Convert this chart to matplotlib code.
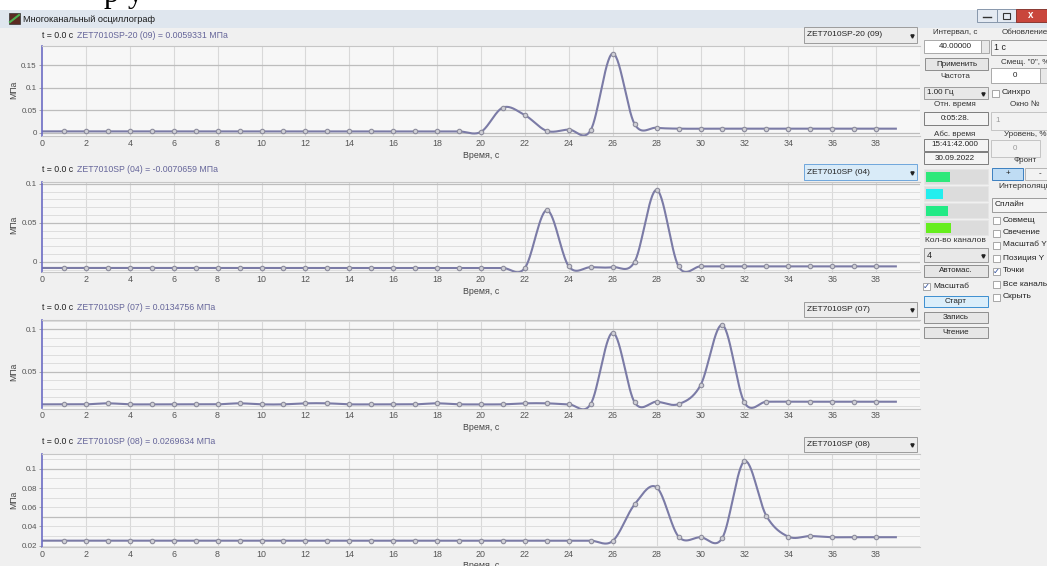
import numpy as np
import matplotlib
matplotlib.use("Agg")
import matplotlib.pyplot as plt
from matplotlib.patches import Rectangle
from matplotlib.ticker import FuncFormatter

plt.rcParams['font.family'] = ['Liberation Sans', 'DejaVu Sans']

W, H = 1047, 566

# samples, 1 per second
time_s = np.arange(40)

ch09 = [0.003, 0.003, 0.003, 0.003, 0.003, 0.003, 0.003, 0.003, 0.003, 0.003,
        0.003, 0.003, 0.003, 0.003, 0.003, 0.003, 0.003, 0.003, 0.003, 0.003,
        0.002, 0.056, 0.039, 0.004, 0.007, 0.006, 0.176, 0.019, 0.011, 0.009,
        0.009, 0.009, 0.009, 0.009, 0.009, 0.009, 0.009, 0.009, 0.009, 0.009]
ch04 = [-0.008, -0.008, -0.008, -0.008, -0.008, -0.008, -0.008, -0.008, -0.008, -0.008,
        -0.008, -0.008, -0.008, -0.008, -0.008, -0.008, -0.008, -0.008, -0.008, -0.008,
        -0.008, -0.008, -0.008, 0.066, -0.006, -0.007, -0.007, 0.0, 0.092, -0.006,
        -0.006, -0.006, -0.006, -0.006, -0.006, -0.006, -0.006, -0.006, -0.006, -0.006]
ch07 = [0.0115, 0.0115, 0.0115, 0.0127, 0.0115, 0.0115, 0.0115, 0.0115, 0.0115, 0.0127,
        0.0115, 0.0115, 0.0127, 0.0127, 0.0115, 0.0115, 0.0115, 0.0115, 0.0127, 0.0115,
        0.0115, 0.0115, 0.0127, 0.0127, 0.0115, 0.012, 0.096, 0.0138, 0.0146, 0.0118,
        0.034, 0.105, 0.0138, 0.0146, 0.0146, 0.0146, 0.0146, 0.0146, 0.0146, 0.0146]
ch08 = [0.0252, 0.0252, 0.0252, 0.0252, 0.0252, 0.0252, 0.0252, 0.0252, 0.0252, 0.0252,
        0.0252, 0.0252, 0.0252, 0.0252, 0.0252, 0.0252, 0.0252, 0.0252, 0.0252, 0.0252,
        0.0252, 0.0252, 0.0252, 0.0252, 0.0252, 0.0252, 0.0249, 0.0631, 0.0808, 0.0294,
        0.0288, 0.0283, 0.108, 0.051, 0.0294, 0.030, 0.0288, 0.0288, 0.0288, 0.0288]

channels = [ch09, ch04, ch07, ch08]
channel_names = ['ZET7010SP-20 (09)', 'ZET7010SP (04)', 'ZET7010SP (07)', 'ZET7010SP (08)']
header_values = ['0.0059331', '-0.0070659', '0.0134756', '0.0269634']
y_ticks = [[0, 0.05, 0.1, 0.15], [0, 0.05, 0.1], [0.05, 0.1], [0.02, 0.04, 0.06, 0.08, 0.1]]
y_limits = [(-0.0084, 0.1927), (-0.0132, 0.1022), (0.0066, 0.111), (0.0186, 0.1155)]
x_ticks = list(range(0, 39, 2))


def spline(x, y, xs):
    # cubic Hermite (Catmull-Rom) curve through the samples, as the "Сплайн" mode draws it
    x = np.asarray(x, float)
    y = np.asarray(y, float)
    n = len(x)
    m = np.zeros(n)
    m[1:-1] = (y[2:] - y[:-2]) / (x[2:] - x[:-2])
    m[0] = (y[1] - y[0]) / (x[1] - x[0])
    m[-1] = (y[-1] - y[-2]) / (x[-1] - x[-2])
    k = np.clip(np.searchsorted(x, xs) - 1, 0, n - 2)
    h = x[k + 1] - x[k]
    s = (xs - x[k]) / h
    h00 = 2 * s ** 3 - 3 * s ** 2 + 1
    h10 = s ** 3 - 2 * s ** 2 + s
    h01 = -2 * s ** 3 + 3 * s ** 2
    h11 = s ** 3 - s ** 2
    return h00 * y[k] + h10 * h * m[k] + h01 * y[k + 1] + h11 * h * m[k + 1]


fig = plt.figure(figsize=(W / 100, H / 100), dpi=100, facecolor='#f0f0f0')
bg = fig.add_axes([0, 0, 1, 1])
bg.set_xlim(0, W)
bg.set_ylim(H, 0)
bg.axis('off')


def box(x0, y0, x1, y1, fc='white', ec='#a9a9a9', lw=0.7):
    bg.add_patch(Rectangle((x0, y0), x1 - x0, y1 - y0, fc=fc, ec=ec, lw=lw))


def label(x, y, s, ha='center', color='#333333', size=5.8, **kw):
    bg.text(x, y, s, ha=ha, va='center', fontsize=size, color=color, **kw)


def dropdown(x0, y0, x1, y1, s, fc='#ececec', ec='#9c9c9c', size=5.8):
    box(x0, y0, x1, y1, fc=fc, ec=ec)
    label(x0 + 3, (y0 + y1) / 2, s, ha='left', color='#222222', size=size)
    bg.plot(x1 - 5, (y0 + y1) / 2 + 0.5, marker='v', ms=2.3, color='#222222')


def button(x0, y0, x1, y1, s, fc='#e6e6e6', ec='#8e8e8e'):
    box(x0, y0, x1, y1, fc=fc, ec=ec)
    label((x0 + x1) / 2, (y0 + y1) / 2, s, color='#222222')


def checkbox(x, y, s, checked=False, size=6.0):
    box(x, y - 3.5, x + 7, y + 3.5, fc='white', ec='#9a9a9a', lw=0.6)
    if checked:
        label(x + 3.5, y, '✓', color='#2c4c9c', size=6, family=['DejaVu Sans'])
    label(x + 10, y, s, ha='left', color='#222222', size=size)


# top strip with the bottom of the document text
bg.add_patch(Rectangle((0, 0), W, 10, fc='white', ec='none'))
bg.text(104, 2, 'р', fontsize=22, family=['Liberation Serif'], color='black', va='baseline')
bg.text(128, 2, 'у', fontsize=22, family=['Liberation Serif'], color='black', va='baseline')

# window title bar
bg.add_patch(Rectangle((0, 10), W, 18, fc='#dfe6ee', ec='none'))
bg.add_patch(Rectangle((9, 13), 11, 11, fc='#5a2a22', ec='#333333', lw=0.5))
bg.plot([10, 19], [22, 15], color='#4caf50', lw=1.5)
label(23, 19, 'Многоканальный осциллограф', ha='left', color='#1a1a1a', size=6.6)
box(977, 9, 997, 22, fc='#e4eaf2', ec='#8797ab')
box(997, 9, 1016, 22, fc='#e4eaf2', ec='#8797ab')
box(1016, 9, 1047, 22, fc='#c9463c', ec='#8a3a33')
bg.plot([983, 991], [17, 17], color='#333333', lw=1)
box(1003, 13, 1010, 19, fc='none', ec='#333333', lw=0.8)
label(1031, 15.5, 'x', color='white', size=7, fontweight='bold')

# plot panels (pixel rows)
rows = [(46, 136.5), (182, 272), (320, 408.5), (454, 547)]
header_y = [35, 170, 307, 442]
ylabel_y = [90, 225, 372, 500]
combo_y = [(27, 43), (164, 180), (302, 317), (437, 452)]
x0_px, x1_px = 42, 920
fine_t = np.linspace(0, 38.9, 1200)

for i, (top, bottom) in enumerate(rows):
    ax = fig.add_axes([x0_px / W, 1 - bottom / H, (x1_px - x0_px) / W, (bottom - top) / H])
    ax.set_facecolor('#f7f7f7')
    lo, hi = y_limits[i]
    ax.set_xlim(0, 40)
    ax.set_ylim(lo, hi)

    # grid: vertical every 2 s, horizontal minor 0.01 and major 0.05
    for t in range(2, 40, 2):
        ax.axvline(t, color='#d9d9d9', lw=0.8, zorder=0)
    if i > 0:
        for v in np.arange(np.ceil(lo * 100), np.floor(hi * 100) + 1) / 100:
            ax.axhline(v, color='#dedede', lw=0.7, zorder=0)
    for v in np.arange(np.ceil(lo * 20), np.floor(hi * 20) + 1) / 20:
        ax.axhline(v, color='#bdbdbd', lw=0.9, zorder=0)

    vals = channels[i]
    ax.plot(fine_t, spline(time_s, vals, fine_t), color='#7b7ba6', lw=1.5, zorder=2)
    ax.plot(time_s[1:39], vals[1:39], 'o', ms=3.2, mfc='#cfcfd6', mec='#8c8c9c',
            mew=0.8, zorder=3)

    ax.set_xticks(x_ticks)
    ax.set_yticks(y_ticks[i])
    ax.yaxis.set_major_formatter(FuncFormatter(lambda v, p: '%g' % round(v, 3)))
    ax.tick_params(axis='x', length=0, pad=2, labelsize=6.4, labelcolor='#555555')
    ax.tick_params(axis='y', length=2.5, width=0.6, color='#999999', pad=1.2,
                   labelsize=5.8, labelcolor='#555555')
    for side in ['top', 'right', 'bottom']:
        ax.spines[side].set_color('#c6c6c6')
        ax.spines[side].set_linewidth(0.8)
    ax.spines['right'].set_visible(False)
    ax.spines['left'].set_color('#6c6cc4')
    ax.spines['left'].set_linewidth(1.2)

    # texts around the panel
    bg.text(42, header_y[i], 't = 0.0 c', fontsize=6.3, color='#222222', va='center')
    bg.text(77, header_y[i], f'{channel_names[i]} = {header_values[i]} МПа', fontsize=6.3,
            color='#66669a', va='center')
    bg.text(14, ylabel_y[i], 'МПа', rotation=90, fontsize=6.2, color='#444444',
            ha='center', va='center')
    bg.text(481, bottom + 19, 'Время, с', fontsize=6.4, color='#444444', ha='center', va='center')
    cy0, cy1 = combo_y[i]
    if i == 1:
        dropdown(804, cy0, 917, cy1, channel_names[i], fc='#d9ebf8', ec='#6fa6dc', size=6)
    else:
        dropdown(804, cy0, 917, cy1, channel_names[i], size=6)

# right control panel
label(955, 32, 'Интервал, с')
label(1025, 32, 'Обновление')
box(924, 40, 981, 53)
label(955, 46.5, '40.00000', color='#222222')
box(981, 40, 989, 53, fc='#e8e8e8')
dropdown(991, 40, 1055, 55, '1 с', fc='#f4f4f4', size=6.4)
button(925, 58, 988, 70, 'Применить')
label(1025, 62, 'Смещ. "0", %')
label(955, 76, 'Частота')
box(991, 68, 1040, 83)
label(1015, 75.5, '0', color='#222222')
box(1040, 68, 1050, 83, fc='#e8e8e8')
dropdown(924, 87, 988, 99, '1.00 Гц', fc='#e8e8e8')
checkbox(992, 93, 'Синхро')
label(955, 104, 'Отн. время')
label(1025, 104, 'Окно №')
box(924, 112, 988, 125, fc='#f4f4f4', ec='#7d7d7d')
label(955, 118.5, '0:05:28.', color='#222222')
box(991, 112, 1050, 130, fc='#f2f2f2', ec='#c4c4c4')
label(995, 121, '1', ha='left', color='#9a9a9a')
label(955, 134, 'Абс. время')
label(1025, 134, 'Уровень, %')
box(924, 139, 988, 151, fc='#f4f4f4', ec='#7d7d7d')
label(955, 145, '15:41:42.000', color='#222222')
box(991, 140, 1040, 157, fc='#f2f2f2', ec='#c4c4c4')
label(1015, 148.5, '0', color='#9a9a9a')
box(924, 152, 988, 164, fc='#f4f4f4', ec='#7d7d7d')
label(955, 158, '30.09.2022', color='#222222')
label(1025, 160, 'Фронт')
button(992, 168, 1023, 180, '+', fc='#bfdcf4', ec='#3c7fc0')
button(1025, 168, 1055, 180, '-', fc='#f2f2f2', ec='#b5b5b5')
label(1025, 186, 'Интерполяци', ha='center', size=6.0)

bar_colors = ['#2ee87a', '#22eeee', '#22ea85', '#66ee1e']
bar_rows = [(169, 184), (186, 201), (203, 218), (220, 235)]
bar_widths = [24, 17, 22, 25]
for c, (r0, r1), bw in zip(bar_colors, bar_rows, bar_widths):
    box(924, r0, 988, r1, fc='#dcdcdc', ec='#e6e6e6')
    box(926, r0 + 2.5, 926 + bw, r1 - 2.5, fc=c, ec='none')

dropdown(992, 198, 1055, 212, 'Сплайн', fc='#f4f4f4', size=6.0)
check_labels = ['Совмещ', 'Свечение', 'Масштаб Y', 'Позиция Y', 'Точки', 'Все каналы', 'Скрыть']
check_rows = [220, 233, 245, 258, 271, 284, 297]
for s, yy in zip(check_labels, check_rows):
    checkbox(993, yy, s, checked=(s == 'Точки'))

label(955, 240, 'Кол-во каналов', size=6)
dropdown(924, 248, 988, 262, '4', fc='#e8e8e8', size=6.4)
button(924, 265, 988, 277, 'Автомас.')
checkbox(923, 286, 'Масштаб', checked=True)
button(924, 296, 988, 307, 'Старт', fc='#dbeefa', ec='#3c8fd0')
button(924, 312, 988, 323, 'Запись')
button(924, 327, 988, 338, 'Чтение')

fig.savefig('out.png', dpi=100, facecolor=fig.get_facecolor())
